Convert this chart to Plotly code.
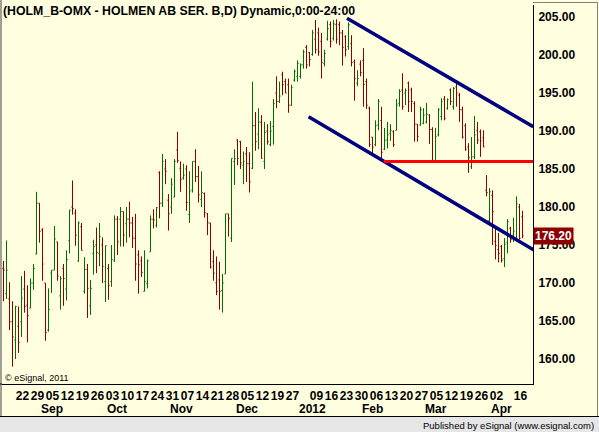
import plotly.graph_objects as go

# ---------------- data ----------------
OPEN = [171.9,168.6,167.9,164.9,162.5,164.3,164.9,169.2,167.1,166.7,
        170.0,173.8,180.5,177.0,170.0,163.8,171.3,171.7,175.4,168.3,
        171.9,169.2,175.6,180.0,179.2,172.9,177.4,168.9,171.8,167.0,
        173.9,175.0,173.9,175.0,170.2,171.9,170.2,172.9,178.4,178.4,
        179.4,177.8,178.4,177.9,175.9,173.7,172.9,168.9,169.9,174.1,
        178.4,177.6,184.5,180.5,185.0,180.9,180.0,181.3,187.5,185.1,
        183.8,185.0,179.0,182.2,186.0,184.0,181.0,181.8,179.1,177.9,
        172.8,170.0,170.4,169.0,171.2,179.1,175.9,186.0,188.8,188.6,
        185.5,187.0,185.7,185.1,190.7,189.6,191.1,186.0,190.0,188.2,
        190.6,195.0,193.9,197.4,196.5,196.1,193.4,196.7,197.2,197.2,
        198.7,201.0,200.3,200.1,202.1,202.9,201.8,198.9,202.1,204.0,
        202.2,204.0,204.0,202.9,202.4,201.1,201.5,199.1,196.3,198.8,
        199.3,196.5,193.0,189.2,188.2,190.8,191.4,187.6,188.8,189.7,
        189.9,190.1,193.6,195.4,195.0,196.3,195.4,193.6,190.9,190.8,
        191.0,191.2,192.1,190.2,186.1,189.5,191.9,194.2,193.0,195.4,
        193.2,195.8,194.7,192.8,190.7,187.9,185.3,186.6,190.1,189.9,
        189.1,182.2,178.2,181.5,175.5,174.4,174.8,173.2,175.3,177.2,
        176.3,175.9,180.0,178.7]
HIGH = [172.9,175.6,170.1,167.6,167.0,166.9,170.9,171.6,169.7,170.6,
        172.5,182.0,180.5,177.2,170.0,169.3,171.7,177.5,175.4,170.9,
        172.5,174.3,179.6,183.5,179.7,178.1,177.9,173.4,172.5,170.4,
        175.7,177.3,177.9,176.0,174.9,172.5,175.0,178.9,178.8,180.0,
        179.4,180.0,180.7,178.7,179.1,174.3,173.5,174.3,173.1,178.9,
        179.7,180.0,184.7,187.0,186.3,181.7,183.8,186.3,189.9,186.0,
        185.7,185.5,184.7,186.0,187.6,185.4,184.7,181.9,179.2,177.9,
        174.3,173.5,172.8,171.2,179.1,179.1,186.4,187.6,188.9,188.7,
        187.3,187.9,187.2,196.5,192.5,193.0,192.1,191.2,190.9,191.3,
        194.2,197.2,196.5,197.8,196.9,196.9,196.1,198.1,199.3,198.9,
        200.7,201.3,200.4,203.3,204.6,203.6,202.9,200.7,204.5,204.4,
        204.6,204.7,204.4,203.3,202.6,204.3,202.6,199.4,198.0,199.3,
        200.9,196.9,193.2,189.2,191.4,194.2,193.2,190.4,191.2,190.9,
        190.1,194.2,195.5,197.6,195.6,196.5,195.7,193.9,190.9,193.2,
        193.0,193.7,192.2,190.5,190.4,193.0,194.3,194.6,194.3,195.6,
        195.8,196.5,195.0,193.2,191.0,188.4,189.2,192.0,191.2,190.2,
        190.1,184.2,182.5,182.2,177.4,176.6,175.0,175.9,178.4,177.4,
        178.6,181.4,180.4,179.5]
LOW = [167.6,167.9,163.8,159.0,160.0,160.8,162.9,166.1,162.2,166.7,
       169.1,173.8,175.3,170.3,162.4,163.6,168.7,171.7,170.3,166.5,
       167.0,167.7,173.9,179.0,174.9,172.8,174.3,168.6,165.4,165.8,
       171.1,171.3,172.2,170.0,167.5,167.8,169.5,172.8,173.7,174.8,
       174.8,175.3,176.0,174.6,170.3,168.6,170.8,168.9,169.3,174.1,
       177.2,177.3,178.5,180.0,183.0,176.9,179.1,181.3,185.8,182.0,
       183.6,179.5,177.9,181.9,183.3,180.6,180.0,178.6,176.3,171.9,
       170.3,168.4,166.5,166.1,171.2,176.1,175.4,182.9,185.5,185.0,
       183.0,183.3,181.9,185.0,187.4,187.6,186.4,185.0,188.2,188.0,
       188.2,193.0,193.7,194.7,195.0,192.4,193.3,196.5,196.5,196.9,
       198.2,198.2,198.5,199.9,200.2,199.9,196.9,198.5,201.9,201.0,
       201.9,201.5,201.3,198.6,199.8,200.7,198.5,194.0,195.9,197.2,
       193.2,192.9,187.9,186.8,188.0,190.1,186.3,187.5,187.7,188.7,
       187.9,190.1,193.2,192.8,193.4,192.5,192.5,188.6,188.6,190.7,
       190.9,191.0,188.3,186.1,186.1,189.3,191.4,191.4,192.8,193.4,
       192.8,193.2,191.2,189.0,187.4,184.5,185.0,186.3,188.3,186.6,
       187.9,181.4,177.6,175.0,173.1,172.7,172.7,172.1,173.9,175.3,
       175.4,175.4,175.7,175.9]
CLOSE = [171.7,171.7,164.9,162.9,166.9,162.2,168.0,166.9,165.7,170.0,
         171.9,180.5,176.8,172.5,163.5,166.5,171.7,175.8,170.9,170.6,
         170.6,173.1,179.6,179.8,176.3,177.9,174.3,171.8,169.3,169.3,
         174.8,174.0,176.1,172.2,174.9,169.7,173.1,178.4,175.4,179.4,
         176.3,178.4,177.9,175.9,172.5,172.4,171.4,170.2,172.9,178.4,
         178.3,179.9,180.5,186.0,184.7,179.1,183.0,186.0,186.1,183.6,
         184.2,180.6,182.0,186.0,184.0,181.6,181.9,179.3,177.9,172.1,
         171.3,168.9,168.9,170.0,179.1,178.5,186.4,186.4,186.4,185.8,
         186.0,185.7,183.3,190.7,188.6,191.2,186.4,189.8,188.6,190.0,
         193.6,193.9,194.6,196.1,195.0,193.4,195.7,197.8,198.9,198.7,
         200.4,198.7,199.4,202.9,200.7,200.4,199.0,200.2,203.5,201.8,
         204.1,202.1,202.9,201.0,200.7,204.0,199.0,196.9,196.9,197.7,
         196.1,193.4,188.2,187.9,190.7,193.9,187.2,188.8,189.5,190.1,
         188.2,193.4,195.2,193.2,195.3,193.9,193.9,190.9,189.3,192.8,
         192.1,192.2,190.2,186.1,189.3,192.8,193.9,191.7,194.1,193.9,
         195.6,195.0,192.8,189.2,187.6,186.5,186.6,189.5,188.8,188.7,
         187.9,181.9,182.0,179.4,174.9,173.9,173.0,175.1,178.1,175.7,
         176.8,180.4,175.9,176.2]
BAR_INDEX = list(range(len(OPEN)))   # trading-day index, 16 Aug 2011 .. 19 Apr 2012

DAY_TICK_IDX = [4, 9, 14, 19, 24, 29, 34, 39, 44, 49, 54, 59, 64, 69, 74,
                79, 84, 89, 94, 102, 107, 112, 117, 122, 127, 132, 137,
                142, 147, 152, 157, 162, 170]
DAY_TICK_TEXT = ["22", "29", "05", "12", "19", "26", "03", "10", "17", "24",
                 "31", "07", "14", "21", "28", "05", "12", "19", "27", "09",
                 "16", "23", "30", "06", "13", "20", "27", "05", "12", "19",
                 "26", "02", "16"]
MONTH_IDX = [12, 34, 55, 77, 98, 119, 140, 162]
MONTH_TEXT = ["Sep", "Oct", "Nov", "Dec", "2012", "Feb", "Mar", "Apr"]

PRICE_TICKS = [160, 165, 170, 175, 180, 185, 190, 195, 200, 205]
PRICE_TICK_TEXT = ["160.00", "165.00", "170.00", "175.00", "180.00",
                   "185.00", "190.00", "195.00", "200.00", "205.00"]

# drawn trend lines (bar index, price)
UPPER_CH_X = [114.5, 176.6]
UPPER_CH_Y = [204.83, 190.57]
LOWER_CH_X = [101.7, 176.8]
LOWER_CH_Y = [191.88, 174.34]
SUPPORT_X = [126.7, 176.6]
SUPPORT_Y = [186.0, 186.0]

LAST_PRICE = 176.20
TITLE = "(HOLM_B-OMX - HOLMEN AB SER. B,D) Dynamic,0:00-24:00"

# ---------------- figure ----------------
W, H = 599, 432
ML, MR, MT, MB = 2, 66, 5, 48
PW, PH = W - ML - MR, H - MT - MB
BG = "#FFFFE0"
FONT = "Liberation Sans, Arial, sans-serif"


def px_x(p):
    return (p - ML) / PW


def px_y(p):
    return (H - MB - p) / PH


fig = go.Figure()
fig.add_trace(go.Ohlc(
    x=BAR_INDEX, open=OPEN, high=HIGH, low=LOW, close=CLOSE,
    increasing=dict(line=dict(color="#006E00", width=1)),
    decreasing=dict(line=dict(color="#8C0000", width=1)),
    tickwidth=0.4, hoverinfo="skip", showlegend=False))

fig.add_trace(go.Scatter(x=UPPER_CH_X, y=UPPER_CH_Y, mode="lines",
                         line=dict(color="#000080", width=3.5),
                         hoverinfo="skip", showlegend=False))
fig.add_trace(go.Scatter(x=LOWER_CH_X, y=LOWER_CH_Y, mode="lines",
                         line=dict(color="#000080", width=3.5),
                         hoverinfo="skip", showlegend=False))
fig.add_trace(go.Scatter(x=SUPPORT_X, y=SUPPORT_Y, mode="lines",
                         line=dict(color="#FF0000", width=3),
                         hoverinfo="skip", showlegend=False))

fig.update_layout(
    width=W, height=H,
    margin=dict(l=ML, r=MR, t=MT, b=MB, pad=0),
    paper_bgcolor=BG, plot_bgcolor=BG,
    font=dict(family=FONT, color="#000000"),
    showlegend=False,
    xaxis=dict(range=[-0.5, 176.5], rangeslider=dict(visible=False),
               tickmode="array", tickvals=DAY_TICK_IDX, ticktext=DAY_TICK_TEXT,
               tickangle=0,
               tickfont=dict(family=FONT, size=12, weight="bold", color="#000000"),
               ticklabelshift=7, ticklabelstandoff=1,
               showgrid=False, zeroline=False, showline=True,
               linecolor="#000000", linewidth=1, ticks="", fixedrange=True),
    yaxis=dict(range=[156.71, 206.58], side="right",
               tickmode="array", tickvals=PRICE_TICKS, ticktext=PRICE_TICK_TEXT,
               tickfont=dict(family=FONT, size=12, weight="bold", color="#000000"),
               ticklabelstandoff=2,
               showgrid=False, zeroline=False, showline=True,
               linecolor="#000000", linewidth=1, ticks="", fixedrange=True),
)

ann = []
ann.append(dict(text=TITLE, xref="paper", yref="paper", x=px_x(1), y=px_y(11),
                xanchor="left", yanchor="middle", showarrow=False,
                font=dict(family=FONT, size=12.3, weight="bold", color="#000000")))
for i, t in zip(MONTH_IDX, MONTH_TEXT):
    ann.append(dict(text=t, xref="x", yref="paper", x=i, y=px_y(408.5),
                    xanchor="left", yanchor="middle", showarrow=False, xshift=-1,
                    font=dict(family=FONT, size=12, weight="bold", color="#000000")))
ann.append(dict(text="© eSignal, 2011", xref="paper", yref="paper",
                x=px_x(3), y=px_y(377.5), xanchor="left", yanchor="middle",
                showarrow=False, font=dict(family=FONT, size=9, color="#000000")))
ann.append(dict(text="%.2f" % LAST_PRICE, xref="paper", yref="y", x=1.0,
                y=LAST_PRICE, xanchor="left", yanchor="middle", showarrow=False,
                bgcolor="#8C0000", borderpad=1,
                font=dict(family=FONT, size=12, weight="bold", color="#FFFFFF")))
ann.append(dict(text="Published by eSignal (www.esignal.com)", xref="paper",
                yref="paper", x=px_x(596), y=px_y(425), xanchor="right",
                yanchor="middle", showarrow=False,
                font=dict(family=FONT, size=9.5, color="#000000")))
fig.update_layout(annotations=ann)

shapes = []
# status bar
shapes.append(dict(type="rect", xref="paper", yref="paper", layer="below",
                   x0=px_x(0), x1=px_x(W), y0=px_y(416.5), y1=px_y(H),
                   fillcolor="#E6E6E6", line=dict(width=0)))
shapes.append(dict(type="line", xref="paper", yref="paper",
                   x0=px_x(0), x1=px_x(W), y0=px_y(416.5), y1=px_y(416.5),
                   line=dict(color="#000000", width=1)))
# frame lines
shapes.append(dict(type="line", xref="paper", yref="paper",
                   x0=px_x(1), x1=px_x(1), y0=px_y(0), y1=px_y(416),
                   line=dict(color="#808080", width=1.5)))
shapes.append(dict(type="line", xref="paper", yref="paper",
                   x0=px_x(597.5), x1=px_x(597.5), y0=px_y(2), y1=px_y(416),
                   line=dict(color="#808080", width=1)))
shapes.append(dict(type="line", xref="paper", yref="paper",
                   x0=px_x(533), x1=px_x(598), y0=px_y(2.5), y1=px_y(2.5),
                   line=dict(color="#808080", width=1)))
shapes.append(dict(type="line", xref="paper", yref="paper",
                   x0=px_x(0), x1=px_x(ML), y0=px_y(H - MB), y1=px_y(H - MB),
                   line=dict(color="#000000", width=1)))
fig.update_layout(shapes=shapes)

fig.write_html("out.html", config=dict(displayModeBar=False))
